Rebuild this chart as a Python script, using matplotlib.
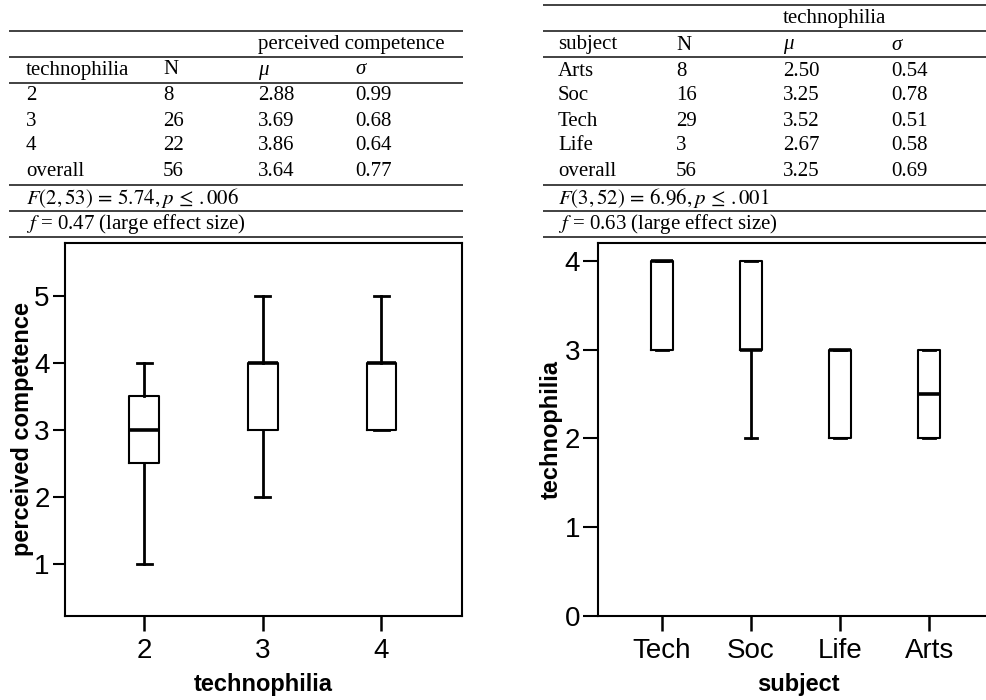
import numpy as np
import matplotlib.pyplot as plt

plt.rcParams['font.family'] = ['Liberation Sans', 'DejaVu Sans']
plt.rcParams['mathtext.fontset'] = 'stix'

# ---- table data ----
tech_levels = ['2', '3', '4']
tech_n = [8, 26, 22]
tech_mu = [2.88, 3.69, 3.86]
tech_sd = [0.99, 0.68, 0.64]
tech_overall = [56, 3.64, 0.77]
tech_F = r'$F(2, 53)\,=\,5.74, p\,\leq\,.006$'
tech_f = '0.47 (large effect size)'

subj_tab = ['Arts', 'Soc', 'Tech', 'Life']
subj_n = [8, 16, 29, 3]
subj_mu = [2.50, 3.25, 3.52, 2.67]
subj_sd = [0.54, 0.78, 0.51, 0.58]
subj_overall = [56, 3.25, 0.69]
subj_F = r'$F(3, 52)\,=\,6.96, p\,\leq\,.001$'
subj_f = '0.63 (large effect size)'

# ---- box plot data ----
left_pos = [2, 3, 4]
left_q1 = [2.5, 3, 3]
left_med = [3, 4, 4]
left_q3 = [3.5, 4, 4]
left_lo = [1, 2, 3]
left_hi = [4, 5, 5]

subjects = ['Tech', 'Soc', 'Life', 'Arts']
right_q1 = [3, 3, 2, 2]
right_med = [4, 3, 3, 2.5]
right_q3 = [4, 4, 3, 3]
right_lo = [3, 2, 2, 2]
right_hi = [4, 4, 3, 3]

fig = plt.figure(figsize=(9.86, 7), dpi=100)

# table layer in pixel coordinates
tax = fig.add_axes([0, 0, 1, 1], zorder=0)
tax.set_xlim(0, 986)
tax.set_ylim(700, 0)
tax.axis('off')

serif = ['Liberation Serif', 'DejaVu Serif']
fs = 15


def draw_table(x0, x1, cols, lines, header, title_col, rows, F_txt, f_txt, y_head, y_rows, y_F):
    for y in lines:
        tax.plot([x0, x1], [y, y], color='#333333', lw=1.3, solid_capstyle='butt')
    tax.text(cols[2], y_head[0], title_col, family=serif, fontsize=fs, va='center')
    for c, h in zip(cols, header):
        tax.text(c, y_head[1], h, family=serif, fontsize=fs, va='center',
                 style='italic' if h in ('μ', 'σ') else 'normal')
    for y, r in zip(y_rows, rows):
        for c, v in zip(cols, r):
            tax.text(c, y, v, family=serif, fontsize=fs, va='center')
    tax.text(cols[0], y_F, F_txt, fontsize=fs, va='center')
    tax.text(cols[0], y_F + 26, '$f$ = ' + f_txt, family=serif, fontsize=fs, va='center')


left_rows = [[g, str(n), '%.2f' % m, '%.2f' % s] for g, n, m, s in zip(tech_levels, tech_n, tech_mu, tech_sd)]
left_rows.append(['overall', str(tech_overall[0]), '%.2f' % tech_overall[1], '%.2f' % tech_overall[2]])
draw_table(9, 463, [26, 163, 258, 355], [31, 57, 83, 185, 211, 237],
           ['technophilia', 'N', 'μ', 'σ'], 'perceived competence', left_rows,
           tech_F, tech_f, [44, 70], [96, 121, 146, 171], 198)

right_rows = [[g, str(n), '%.2f' % m, '%.2f' % s] for g, n, m, s in zip(subj_tab, subj_n, subj_mu, subj_sd)]
right_rows.append(['overall', str(subj_overall[0]), '%.2f' % subj_overall[1], '%.2f' % subj_overall[2]])
draw_table(543, 986, [558, 676, 783, 891], [5, 31, 57, 185, 211, 237],
           ['subject', 'N', 'μ', 'σ'], 'technophilia', right_rows,
           subj_F, subj_f, [18, 45], [71, 96, 121, 146, 171], 198)


def boxes(ax, pos, q1, med, q3, lo, hi, width):
    stats = [dict(q1=a, med=b, q3=c, whislo=d, whishi=e, fliers=[])
             for a, b, c, d, e in zip(q1, med, q3, lo, hi)]
    ax.bxp(stats, positions=pos, widths=width, capwidths=width * 0.5,
           showfliers=False, manage_ticks=False,
           boxprops=dict(color='black', lw=1.5),
           medianprops=dict(color='black', lw=2.6, solid_capstyle='butt'),
           whiskerprops=dict(color='black', lw=2),
           capprops=dict(color='black', lw=2))


# ---- left box plot ----
ax1 = fig.add_axes([65 / 986, 84 / 700, 397 / 986, 373 / 700], zorder=2)
boxes(ax1, left_pos, left_q1, left_med, left_q3, left_lo, left_hi, 0.25)
ax1.set_xlim(1.333, 4.68)
ax1.set_ylim(0.22, 5.79)
ax1.set_xticks(left_pos)
ax1.set_xticklabels(tech_levels)
ax1.set_yticks([1, 2, 3, 4, 5])
ax1.tick_params(axis='y', length=9, width=1.5, labelsize=20, pad=2)
ax1.tick_params(axis='x', length=11, width=1.8, labelsize=20, pad=5)
for s in ax1.spines.values():
    s.set_linewidth(1.5)
ax1.set_xlabel('technophilia', fontsize=17, fontweight='bold', labelpad=6)
ax1.set_ylabel('perceived competence', fontsize=17, fontweight='bold', labelpad=0)

# ---- right box plot ----
ax2 = fig.add_axes([598 / 986, 84 / 700, 400 / 986, 373 / 700], zorder=2)
boxes(ax2, [1, 2, 3, 4], right_q1, right_med, right_q3, right_lo, right_hi, 0.255)
ax2.set_xlim(0.28, 0.28 + 400 / 89)
ax2.set_ylim(0, 4.2)
ax2.set_xticks([1, 2, 3, 4])
ax2.set_xticklabels(subjects)
ax2.set_yticks([0, 1, 2, 3, 4])
ax2.spines['right'].set_visible(False)
ax2.tick_params(axis='y', length=11, width=1.5, labelsize=20, pad=2)
ax2.tick_params(axis='x', length=11, width=1.8, labelsize=20, pad=5)
for s in ax2.spines.values():
    s.set_linewidth(1.5)
ax2.set_xlabel('subject', fontsize=17, fontweight='bold', labelpad=6)
ax2.set_ylabel('technophilia', fontsize=17, fontweight='bold', labelpad=1)

fig.savefig('out.png', dpi=100)
